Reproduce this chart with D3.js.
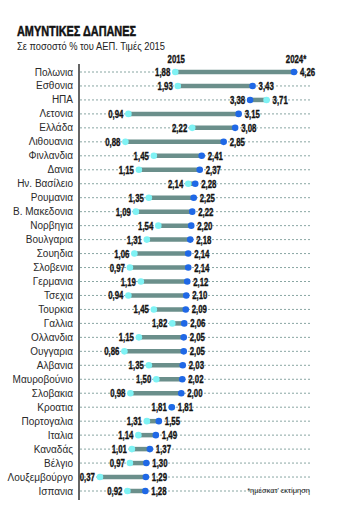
<!DOCTYPE html>
<html>
<head>
<meta charset="utf-8">
<script src="https://cdn.jsdelivr.net/npm/d3@7"></script>
<style>
  html, body { margin: 0; padding: 0; background: #fff; }
  svg { display: block; }
  .num { font-family: "Liberation Sans", Arial, sans-serif; font-weight: bold; font-size: 11.5px; fill: #111; stroke: #111; stroke-width: 0.35px; }
  .country { font-family: "Liberation Sans", Arial, sans-serif; font-size: 10px; fill: #2a2a2a; }
</style>
</head>
<body>
<svg id="chart" width="338" height="510"></svg>
<script>
// Defence spending as % of GDP, 2015 vs 2024 (estimate)
const countries = ["Πολωνια", "Εσθονια", "ΗΠΑ", "Λετονια", "Ελλάδα", "Λιθουανια", "Φινλανδια", "Δανια",
  "Ην. Βασίλειο", "Ρουμανια", "Β. Μακεδονια", "Νορβηγια", "Βουλγαρια", "Σουηδια", "Σλοβενια", "Γερμανια",
  "Τσεχια", "Τουρκια", "Γαλλια", "Ολλανδια", "Ουγγαρια", "Αλβανια", "Μαυροβούνιο", "Σλοβακια",
  "Κροατια", "Πορτογαλια", "Ιταλια", "Καναδάς", "Βέλγιο", "Λουξεμβούργο", "Ισπανια"];
const values2015 = [1.88, 1.93, 3.71, 0.94, 2.22, 0.88, 1.45, 1.15, 2.14, 1.35, 1.09, 1.54, 1.31, 1.06, 0.97, 1.19,
  0.94, 1.45, 1.82, 1.15, 0.86, 1.35, 1.50, 0.98, 1.81, 1.31, 1.14, 1.01, 0.97, 0.37, 0.92];
const values2024 = [4.26, 3.43, 3.38, 3.15, 3.08, 2.85, 2.41, 2.37, 2.28, 2.25, 2.22, 2.20, 2.18, 2.14, 2.14, 2.12,
  2.10, 2.09, 2.06, 2.05, 2.05, 2.03, 2.02, 2.00, 1.81, 1.55, 1.49, 1.37, 1.30, 1.29, 1.28];
const seriesLabels = ["2015", "2024*"];

const rows = countries.map((c, i) => ({ country: c, v15: values2015[i], v24: values2024[i] }));
const fmt = v => d3.format(".2f")(v).replace(".", ",");

const svg = d3.select("#chart");

const x = d3.scaleLinear().domain([0, 4.26]).range([81.5, 294]);
const y = d3.scalePoint().domain(countries).range([72, 491]);

const cBar = "#6b8f8b", c15 = "#7ff2f4", c24 = "#1f68e6";

// Condensed bold text: horizontally squeezed around its anchor point
function condensed(parent, px, py, str, anchor) {
  const g = parent.append("g").attr("transform", `translate(${px},${py}) scale(0.68,1)`);
  return g.append("text").attr("class", "num").attr("text-anchor", anchor).text(str);
}

// Title block
svg.append("text").attr("x", 17).attr("y", 36)
  .attr("font-family", "Liberation Sans, Arial, sans-serif")
  .attr("font-weight", "bold").attr("font-size", 15).attr("fill", "#111")
  .attr("stroke", "#111").attr("stroke-width", 0.5)
  .attr("textLength", 119).attr("lengthAdjust", "spacingAndGlyphs")
  .text("ΑΜΥΝΤΙΚΕΣ ΔΑΠΑΝΕΣ");
svg.append("text").attr("x", 17).attr("y", 50)
  .attr("font-family", "Liberation Sans, Arial, sans-serif").attr("font-size", 10).attr("fill", "#222")
  .attr("textLength", 148).attr("lengthAdjust", "spacingAndGlyphs")
  .text("Σε ποσοστό % του ΑΕΠ. Τιμές 2015");

// Column headers above the first row
condensed(svg, x(values2015[0]) + 1, 63, seriesLabels[0], "middle");
condensed(svg, x(values2024[0]) + 2, 63, seriesLabels[1], "middle");

// Dotted guide lines
svg.append("g").selectAll("line").data(rows).join("line")
  .attr("x1", 80).attr("x2", 310)
  .attr("y1", d => y(d.country)).attr("y2", d => y(d.country))
  .attr("stroke", "#6b8f8b").attr("stroke-width", 0.8).attr("stroke-dasharray", "2,2");

// Vertical axis
svg.append("line").attr("x1", 79).attr("x2", 79).attr("y1", 64).attr("y2", 500)
  .attr("stroke", "#111").attr("stroke-width", 1.3);

// Country names
svg.append("g").selectAll("text").data(rows).join("text")
  .attr("class", "country").attr("x", 73).attr("y", d => y(d.country) + 3.5)
  .attr("text-anchor", "end").text(d => d.country);

// Connecting bars
svg.append("g").selectAll("line").data(rows).join("line")
  .attr("x1", d => x(Math.min(d.v15, d.v24))).attr("x2", d => x(Math.max(d.v15, d.v24)))
  .attr("y1", d => y(d.country)).attr("y2", d => y(d.country))
  .attr("stroke", cBar).attr("stroke-width", 4.5);

// Dots
svg.append("g").selectAll("circle").data(rows).join("circle")
  .attr("cx", d => x(d.v15)).attr("cy", d => y(d.country)).attr("r", 3.3).attr("fill", c15);
svg.append("g").selectAll("circle").data(rows).join("circle")
  .attr("cx", d => x(d.v24)).attr("cy", d => y(d.country)).attr("r", 3.3).attr("fill", c24);

// Value labels: smaller value on the left, larger on the right
const lab = svg.append("g");
rows.forEach(d => {
  const lo = Math.min(d.v15, d.v24);
  const hi = Math.max(d.v15, d.v24);
  condensed(lab, x(lo) - 5, y(d.country) + 4, fmt(lo), "end");
  condensed(lab, x(hi) + 6, y(d.country) + 4, fmt(hi), "start");
});

// Footnote
svg.append("text").attr("x", 310).attr("y", 493)
  .attr("text-anchor", "end").attr("font-family", "Liberation Sans, Arial, sans-serif")
  .attr("font-size", 7.5).attr("fill", "#222")
  .text("*ημέσκατ' εκτίμηση");
</script>
</body>
</html>
